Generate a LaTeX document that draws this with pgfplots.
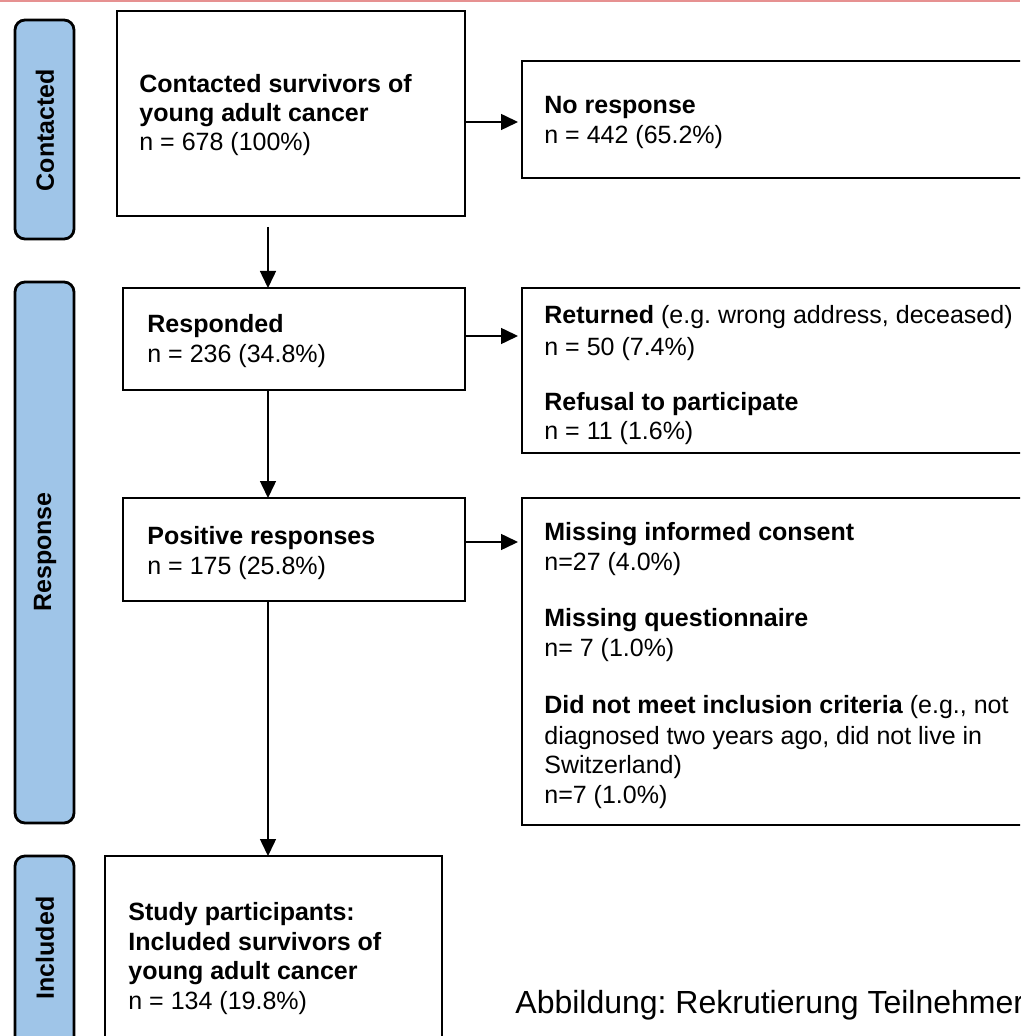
\documentclass[border=0pt]{standalone}
\usepackage{fontspec}
\setmainfont{Liberation Sans}
\usepackage{pgfplots}
\pgfplotsset{compat=1.18}
\usetikzlibrary{arrows.meta}
\definecolor{lblue}{HTML}{9FC5E8}
\definecolor{topred}{HTML}{E69191}
\tikzset{
  txt/.style={font=\fontsize{12.5}{15}\selectfont, inner sep=0pt, anchor=base west},
  phase/.style={rotate=90, anchor=center, inner sep=0pt, font=\fontsize{12.5}{15}\selectfont\bfseries},
}
\frenchspacing

\begin{document}
\begin{tikzpicture}
\begin{axis}[
  width=510pt, height=518pt, scale only axis,
  xmin=0, xmax=1020, ymin=0, ymax=1036, y dir=reverse,
  axis lines=none, clip=true,
]
% thin red rule at the top
\addplot[topred, line width=1.1pt] coordinates {(0,1) (1020,1)};

% phase labels
\addplot[fill=lblue, draw=black, line width=1.4pt, rounded corners=5pt] coordinates {(15,20) (74,20) (74,239) (15,239)} -- cycle;
\addplot[fill=lblue, draw=black, line width=1.4pt, rounded corners=5pt] coordinates {(15,282) (74,282) (74,823) (15,823)} -- cycle;
\addplot[fill=lblue, draw=black, line width=1.4pt, rounded corners=5pt] coordinates {(15,856) (74,856) (74,1060) (15,1060)} -- cycle;
\node[phase] at (45,130) {Contacted};
\node[phase] at (45,552) {Response};
\node[phase] at (45,948) {Included};

% main column
\addplot[draw=black, line width=1.4pt] coordinates {(117,11) (465,11) (465,216) (117,216)} -- cycle;
\addplot[draw=black, line width=1.4pt] coordinates {(123,288) (465,288) (465,390) (123,390)} -- cycle;
\addplot[draw=black, line width=1.4pt] coordinates {(123,498) (465,498) (465,601) (123,601)} -- cycle;
\addplot[draw=black, line width=1.4pt] coordinates {(105,1060) (105,856) (442,856) (442,1060)};

% side boxes (open to the right edge)
\addplot[draw=black, line width=1.4pt] coordinates {(1040,61) (522,61) (522,178) (1040,178)};
\addplot[draw=black, line width=1.4pt] coordinates {(1040,288) (522,288) (522,453) (1040,453)};
\addplot[draw=black, line width=1.4pt] coordinates {(1040,498) (522,498) (522,825) (1040,825)};

% arrows
\addplot[line width=0.75pt, -{Triangle[length=8.5pt,width=8pt]}] coordinates {(268,227) (268,288)};
\addplot[line width=0.75pt, -{Triangle[length=8.5pt,width=8pt]}] coordinates {(268,390) (268,498)};
\addplot[line width=0.75pt, -{Triangle[length=8.5pt,width=8pt]}] coordinates {(268,601) (268,856)};
\addplot[line width=0.75pt, -{Triangle[length=8.5pt,width=8pt]}] coordinates {(466,122) (518,122)};
\addplot[line width=0.75pt, -{Triangle[length=8.5pt,width=8pt]}] coordinates {(466,336) (518,336)};
\addplot[line width=0.75pt, -{Triangle[length=8.5pt,width=8pt]}] coordinates {(466,542) (518,542)};

% texts
\node[txt] at (139,93) {\textbf{Contacted survivors of}};
\node[txt] at (139,122) {\textbf{young adult cancer}};
\node[txt] at (139,151) {n = 678 (100\%)};

\node[txt] at (544,114) {\textbf{No response}};
\node[txt] at (544,144) {n = 442 (65.2\%)};

\node[txt] at (147,333) {\textbf{Responded}};
\node[txt] at (147,363) {n = 236 (34.8\%)};

\node[txt] at (147,544) {\textbf{Positive responses}};
\node[txt] at (147,574) {n = 175 (25.8\%)};

\node[txt] at (544,324) {\textbf{Returned} (e.g. wrong address, deceased)};
\node[txt] at (544,356) {n = 50 (7.4\%)};
\node[txt] at (544,411) {\textbf{Refusal to participate}};
\node[txt] at (544,440) {n = 11 (1.6\%)};

\node[txt] at (544,540) {\textbf{Missing informed consent}};
\node[txt] at (544,570) {n=27 (4.0\%)};
\node[txt] at (544,626) {\textbf{Missing questionnaire}};
\node[txt] at (544,656) {n= 7 (1.0\%)};
\node[txt] at (544,713) {\textbf{Did not meet inclusion criteria} (e.g., not};
\node[txt] at (544,744) {diagnosed two years ago, did not live in};
\node[txt] at (544,773) {Switzerland)};
\node[txt] at (544,803) {n=7 (1.0\%)};

\node[txt] at (128,920) {\textbf{Study participants:}};
\node[txt] at (128,950) {\textbf{Included survivors of}};
\node[txt] at (128,979) {\textbf{young adult cancer}};
\node[txt] at (128,1009) {n = 134 (19.8\%)};

% caption runs off the right edge, as in the reference
\node[txt, font=\fontsize{16}{19}\selectfont] at (515,1013) {Abbildung: Rekrutierung Teilnehmer};
\end{axis}
\pgfresetboundingbox
\path[use as bounding box] (current axis.south west) rectangle (current axis.north east);
\end{tikzpicture}
\end{document}
